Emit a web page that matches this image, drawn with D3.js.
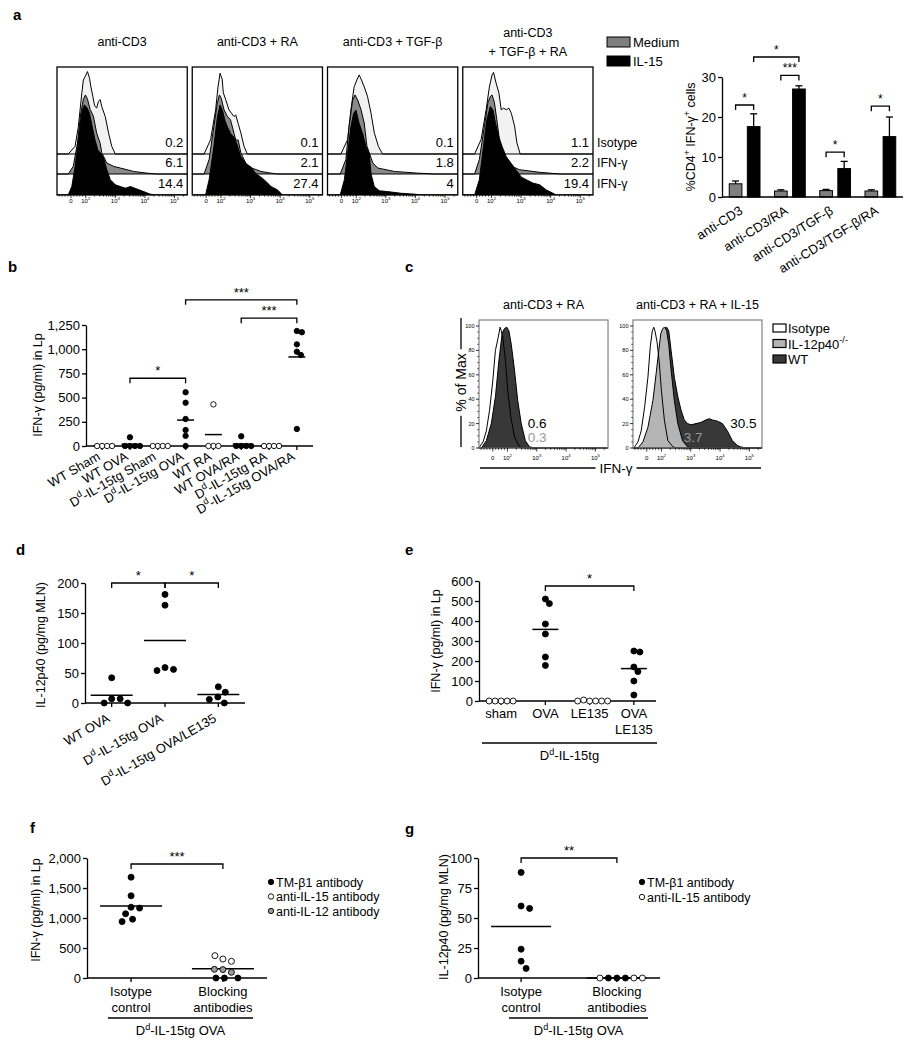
<!DOCTYPE html>
<html><head><meta charset="utf-8">
<script src="https://cdn.jsdelivr.net/npm/d3@7"></script>
<style>body{margin:0;background:#fff}svg{display:block}text{font-family:'Liberation Sans',Arial,Helvetica,sans-serif}</style>
</head><body><svg id="fig" width="909" height="1050"></svg>
<script>
// ================= DATA =================
// Panel a: flow histograms (x in display decades: 0 -> "0", 0.5 -> 10^2, 1.5 -> 10^3 ...; h = relative height)
const aTitles = ["anti-CD3", "anti-CD3 + RA", "anti-CD3 + TGF-β", "anti-CD3|+ TGF-β + RA"];
const aRowLabels = ["Isotype", "IFN-γ", "IFN-γ"];
const aNumbers = [["0.2", "6.1", "14.4"], ["0.1", "2.1", "27.4"], ["0.1", "1.8", "4"], ["1.1", "2.2", "19.4"]];
const aIso = [
  [[-0.09,0],[0.14,9],[0.25,32],[0.37,72],[0.42,87],[0.51,93],[0.56,97],[0.63,89],[0.67,80],[0.74,68],[0.8,57],[0.87,54],[0.93,62],[0.99,64],[1.04,56],[1.16,44],[1.27,25],[1.38,9],[1.5,0]],
  [[-0.07,0],[0.15,17],[0.32,52],[0.4,79],[0.47,95],[0.54,88],[0.58,72],[0.66,64],[0.77,52],[0.94,44],[1.0,46],[1.08,36],[1.17,25],[1.28,9],[1.39,0]],
  [[-0.02,0],[0.21,17],[0.32,52],[0.43,79],[0.52,87],[0.6,93],[0.68,87],[0.77,79],[0.88,68],[1.0,48],[1.11,25],[1.25,9],[1.39,0]],
  [[-0.07,0],[0.15,17],[0.32,52],[0.43,79],[0.52,93],[0.57,96],[0.66,83],[0.75,72],[0.83,52],[0.91,54],[1.0,52],[1.09,54],[1.17,48],[1.28,33],[1.36,13],[1.47,0]]
];
const aGray = [
  [[-0.09,0],[0.08,9],[0.22,36],[0.33,71],[0.42,88],[0.49,93],[0.56,88],[0.65,76],[0.76,68],[0.87,48],[0.99,36],[1.04,25],[1.1,21],[1.21,13],[1.44,9],[1.67,7],[2.12,3],[2.57,1],[2.91,0]],
  [[-0.07,0],[0.1,17],[0.26,56],[0.38,84],[0.45,93],[0.51,89],[0.6,76],[0.71,68],[0.82,64],[0.94,48],[1.0,40],[1.08,40],[1.17,25],[1.39,9],[1.85,3],[2.19,1],[2.4,0]],
  [[-0.04,0],[0.15,17],[0.26,56],[0.38,87],[0.46,93],[0.55,87],[0.66,76],[0.77,60],[0.86,33],[0.94,25],[1.06,13],[1.23,7],[1.79,3],[2.58,1],[3.15,0]],
  [[-0.07,0],[0.09,17],[0.26,56],[0.38,84],[0.46,91],[0.52,93],[0.6,84],[0.68,64],[0.77,40],[0.89,21],[1.06,11],[1.45,5],[2.13,2],[2.81,0]]
];
const aBlack = [
  [[-0.09,0],[0.03,10],[0.14,33],[0.25,65],[0.37,98],[0.45,106],[0.54,103],[0.63,96],[0.71,82],[0.82,64],[0.92,52],[0.99,50],[1.1,44],[1.21,30],[1.33,18],[1.5,12],[1.67,10],[1.84,8],[2.01,10],[2.23,7],[2.46,4],[2.68,1],[2.85,0]],
  [[-0.02,0],[0.1,18],[0.26,57],[0.38,92],[0.47,106],[0.55,100],[0.63,88],[0.72,80],[0.83,72],[0.94,68],[1.03,61],[1.17,45],[1.34,37],[1.51,33],[1.68,25],[1.85,21],[2.02,16],[2.19,10],[2.41,6],[2.58,0]],
  [[-0.04,0],[0.1,18],[0.21,49],[0.32,80],[0.41,96],[0.49,100],[0.6,84],[0.72,72],[0.83,57],[0.88,53],[0.94,49],[1.0,25],[1.11,10],[1.28,5],[1.56,4],[2.02,2],[2.47,1],[2.69,0]],
  [[-0.07,0],[0.09,18],[0.23,57],[0.34,88],[0.46,104],[0.55,100],[0.64,84],[0.75,68],[0.86,57],[1.0,45],[1.17,37],[1.34,29],[1.51,21],[1.68,18],[1.9,14],[2.13,12],[2.35,6],[2.58,2],[2.69,0]]
];
const flowTicks = [{v:0,l:"0"},{v:0.5,l:"10{2}"},{v:1.5,l:"10{3}"},{v:2.5,l:"10{4}"},{v:3.5,l:"10{5}"}];

// Panel a: bar chart
const barGroups = ["anti-CD3", "anti-CD3/RA", "anti-CD3/TGF-β", "anti-CD3/TGF-β/RA"];
const barSeries = ["Medium", "IL-15"];
const barMedium = [3.3, 1.5, 1.6, 1.5];
const barMediumErr = [4.0, 1.8, 1.9, 1.8];
const barIL15 = [17.6, 27.0, 7.1, 15.1];
const barIL15Err = [20.8, 27.8, 8.9, 20.0];
const barTicks = [0, 10, 20, 30];
const barSig = [
  {ga:0, sa:"Medium", gb:0, sb:"IL-15", v:23, label:"*"},
  {ga:1, sa:"Medium", gb:1, sb:"IL-15", v:30.4, label:"***"},
  {ga:0, sa:"IL-15", gb:1, sb:"IL-15", v:35, label:"*"},
  {ga:2, sa:"Medium", gb:2, sb:"IL-15", v:11.2, label:"*"},
  {ga:3, sa:"Medium", gb:3, sb:"IL-15", v:22.7, label:"*"}
];

// Panel b
const bCats = ["WT Sham", "WT OVA", "D{d}-IL-15tg Sham", "D{d}-IL-15tg OVA", "WT RA", "WT OVA/RA", "D{d}-IL-15tg RA", "D{d}-IL-15tg OVA/RA"];
const bValues = [[0,0,0,0],[90,0,0,0,0],[0,0,0,0],[555,447,279,165,105,0],[430,0,0,0],[100,0,0,0,0],[0,0,0,0],[1188,1175,1050,974,940,176]];
const bOpen = [true, false, true, false, true, false, true, false];
const bMeans = [0, 18, 0, 268, 118, 20, 0, 920];
const bTicks = [0, 250, 500, 750, 1000, 1250];
const bSig = [{a:1, b:3, v:700, label:"*"}, {a:3, b:7, v:1510, label:"***"}, {a:5, b:7, v:1320, label:"***"}];

// Panel c
const cTitles = ["anti-CD3 + RA", "anti-CD3 + RA + IL-15"];
const cIso = [
  [[-0.45,1],[-0.33,5],[-0.22,14],[-0.11,31],[0.0,55],[0.09,80],[0.18,90],[0.25,99],[0.29,96],[0.34,91],[0.43,72],[0.51,47],[0.62,25],[0.74,9],[0.91,1],[1.02,0]],
  [[-0.41,1],[-0.3,5],[-0.19,14],[-0.07,34],[0.04,58],[0.12,83],[0.19,96],[0.24,99],[0.28,96],[0.35,87],[0.42,72],[0.5,47],[0.6,23],[0.72,6],[0.89,1],[1.0,0]]
];
const cWT = [
  [[-0.39,0],[-0.22,6],[-0.05,20],[0.09,42],[0.21,72],[0.32,94],[0.4,98],[0.48,99],[0.55,96],[0.63,85],[0.74,64],[0.85,39],[0.97,20],[1.11,6],[1.25,1],[1.42,0]],
  [[-0.24,0],[-0.07,5],[0.1,17],[0.26,39],[0.38,64],[0.46,83],[0.52,95],[0.6,98],[0.68,99],[0.75,96],[0.83,80],[0.94,58],[1.06,42],[1.17,31],[1.28,23],[1.39,20],[1.51,19],[1.68,20],[1.85,21],[2.01,23],[2.13,24],[2.24,23],[2.41,22],[2.58,20],[2.75,14],[2.92,6],[3.09,2],[3.2,1],[3.37,0]]
];
const cIL12 = [
  null,
  [[-0.3,0],[-0.13,5],[0.04,17],[0.21,39],[0.32,61],[0.41,80],[0.48,94],[0.55,98],[0.61,99],[0.68,96],[0.75,85],[0.83,64],[0.94,39],[1.06,20],[1.22,6],[1.39,1],[1.56,0]]
];
const cNumbers = [
  [{u:1.19, p:16, t:"0.6", k:"wt"}, {u:1.19, p:5, t:"0.3", k:"ko"}],
  [{u:2.85, p:16, t:"30.5", k:"wt"}, {u:1.26, p:5, t:"3.7", k:"ko"}]
];
const cLegend = ["Isotype", "IL-12p40{-/-}", "WT"];
const cYTicks = [0, 20, 40, 60, 80, 100];

// Panel d
const dCats = ["WT OVA", "D{d}-IL-15tg OVA", "D{d}-IL-15tg OVA/LE135"];
const dValues = [[42,7,7,0,0],[181,163,59,56,54],[27,18,10,6,0]];
const dMeans = [13, 104, 14];
const dTicks = [0, 50, 100, 150, 200];
const dSig = [{a:0, b:1, v:200, label:"*"}, {a:1, b:2, v:200, label:"*"}];

// Panel e
const eCats = ["sham", "OVA", "LE135", "OVA|LE135"];
const eValues = [[0,0,0,0,0],[510,487,385,335,220,178],[0,0,5,0,0,0],[250,245,170,147,100,30]];
const eOpen = [true, false, true, false];
const eMeans = [0, 358, 0, 162];
const eTicks = [0, 100, 200, 300, 400, 500, 600];
const eSig = [{a:1, b:3, v:575, label:"*"}];

// Panel f
const fCats = ["Isotype|control", "Blocking|antibodies"];
const fLegend = ["TM-β1 antibody", "anti-IL-15 antibody", "anti-IL-12 antibody"];
const fIsotype = [1680, 1370, 1180, 1165, 1070, 980, 940];
const fBlockTM = [0, 0, 0];
const fBlockIL15 = [316, 278, 372];
const fBlockIL12 = [140, 95, 145];
const fMeans = [1200, 155];
const fTicks = [0, 500, 1000, 1500, 2000];
const fSig = [{a:0, b:1, v:1900, label:"***"}];

// Panel g
const gCats = ["Isotype|control", "Blocking|antibodies"];
const gLegend = ["TM-β1 antibody", "anti-IL-15 antibody"];
const gIsotype = [88, 60, 58, 24, 14, 8];
const gBlockTM = [0, 0, 0];
const gBlockIL15 = [0, 0, 0];
const gMeans = [43, 0];
const gTicks = [0, 25, 50, 75, 100];
const gSig = [{a:0, b:1, v:100, label:"**"}];

// ================= HELPERS =================
const svg = d3.select("#fig");
const STYLE = {
  filled: {fill:"#000", stroke:"#000"},
  open: {fill:"#fff", stroke:"#000"},
  gray: {fill:"#9a9a9a", stroke:"#000"}
};

function rich(t, str, fs) {
  const parts = str.split(/(\{[^}]*\})/).filter(s => s.length);
  let prevSup = false;
  parts.forEach(p => {
    const isSup = p[0] === "{";
    const ts = t.append("tspan").text(isSup ? p.slice(1, -1) : p);
    if (isSup) { ts.attr("font-size", fs * 0.7).attr("dy", -fs * 0.42); prevSup = true; }
    else { if (prevSup) ts.attr("dy", fs * 0.42); prevSup = false; }
  });
  return t;
}
function text(g, x, y, str, fs, o = {}) {
  const t = g.append("text").attr("x", x).attr("y", y).attr("font-size", fs)
    .attr("text-anchor", o.anchor || "start").attr("fill", o.fill || "#000");
  if (o.weight) t.attr("font-weight", o.weight);
  if (o.transform) t.attr("transform", o.transform);
  return rich(t, str, fs);
}
function styleAxis(sel, fs) {
  sel.attr("font-size", fs).attr("font-family", "'Liberation Sans', Arial, Helvetica, sans-serif");
  sel.selectAll("path.domain").attr("stroke-width", 1.3);
  sel.selectAll(".tick line").attr("stroke-width", 1.3);
  sel.selectAll(".tick text").attr("fill", "#000");
}
function dodge(points, sep) {
  const placed = [];
  points.forEach(p => {
    let off = 0;
    for (let k = 0; k < 400; k++) {
      const c = k === 0 ? 0 : (k % 2 ? 1 : -1) * Math.ceil(k / 2) * 0.5;
      if (placed.every(q => Math.hypot(q.dx - c, q.cy - p.cy) >= sep)) { off = c; break; }
    }
    p.dx = off; placed.push(p);
  });
  return points;
}
function bracket(g, xa, xb, yv, leg, label, fs) {
  g.append("path").attr("d", `M${xa},${yv + leg}V${yv}H${xb}V${yv + leg}`)
    .attr("fill", "none").attr("stroke", "#000").attr("stroke-width", 1.3);
  text(g, (xa + xb) / 2, yv - 3, label, fs, {anchor: "middle"});
}

// panel letters
[["a",13,20],["b",8,272],["c",405,272],["d",16,555],["e",405,555],["f",30,833],["g",405,834]].forEach(l =>
  text(svg, l[1], l[2], l[0], 15, {weight: "bold"}));

// ================= PANEL a: histograms =================
const flowMinor = [-0.4,-0.3,-0.2,-0.1,0.1,0.2,0.3,0.4];
[0.5,1.5,2.5,3.5].forEach(d => d3.range(2,10).forEach(k => { const u = d + Math.log10(k); if (u < 3.9) flowMinor.push(u); }));
const flowDomain = [-0.47, 3.93];

function flowAxis(g, xs, yb, labOff, tickLen) {
  flowTicks.forEach(t => {
    g.append("line").attr("x1", xs(t.v)).attr("x2", xs(t.v)).attr("y1", yb).attr("y2", yb + tickLen)
      .attr("stroke", "#000").attr("stroke-width", 0.8);
    text(g, xs(t.v), yb + labOff, t.l, 6, {anchor: "middle"});
  });
  flowMinor.forEach(u => g.append("line").attr("x1", xs(u)).attr("x2", xs(u)).attr("y1", yb).attr("y2", yb + tickLen * 0.6)
    .attr("stroke", "#000").attr("stroke-width", 0.6));
}

const aBox = d3.scaleBand().domain(d3.range(4)).range([57, 593]).paddingInner(0.037);
const aTop = 67, aBottom = 195;
const aRowBase = [154, 174, 195];
const aH = d3.scaleLinear().domain([0, 100]).range([0, 85]);
const aFills = ["#f2f2f2", "#8a8a8a", "#000"];
const ga = svg.append("g");
aTitles.forEach((title, i) => {
  const x0 = aBox(i), w = aBox.bandwidth();
  const xs = d3.scaleLinear().domain(flowDomain).range([x0, x0 + w]);
  const clipId = "aclip" + i;
  ga.append("clipPath").attr("id", clipId).append("rect").attr("x", x0).attr("y", aTop).attr("width", w).attr("height", aBottom - aTop);
  const gp = ga.append("g").attr("clip-path", `url(#${clipId})`);
  [aIso[i], aGray[i], aBlack[i]].forEach((curve, r) => {
    const base = aRowBase[r];
    const pts = [[flowDomain[0], 0], ...curve, [flowDomain[1], 0]];
    const line = d3.line().x(d => xs(d[0])).y(d => base - aH(d[1]));
    gp.append("path").attr("d", line(pts) + "Z").attr("fill", aFills[r]).attr("stroke", "#000").attr("stroke-width", 1);
  });
  ga.append("rect").attr("x", x0).attr("y", aTop).attr("width", w).attr("height", aBottom - aTop)
    .attr("fill", "none").attr("stroke", "#000").attr("stroke-width", 1.3);
  aNumbers[i].forEach((n, r) => text(ga, x0 + w - 4, aRowBase[r] - 7, n, 13, {anchor: "end"}));
  const lines = title.split("|");
  if (lines.length === 1) text(ga, x0 + w / 2, 46, lines[0], 12.5, {anchor: "middle"});
  else lines.forEach((l, k) => text(ga, x0 + w / 2, 37 + k * 19, l, 12.5, {anchor: "middle"}));
  flowAxis(ga, xs, aBottom, 7.5, 3);
});
aRowLabels.forEach((l, r) => text(ga, aBox(3) + aBox.bandwidth() + 4, aRowBase[r] - 7, l, 12.5));

// legend
const barColors = {"Medium": "#7f7f7f", "IL-15": "#000"};
barSeries.forEach((s, k) => {
  const y = 37 + k * 19;
  ga.append("rect").attr("x", 607).attr("y", y).attr("width", 23).attr("height", 10)
    .attr("fill", barColors[s]).attr("stroke", "#000").attr("stroke-width", 1);
  text(ga, 633, y + 10, s, 13);
});

// ================= PANEL a: bar chart =================
const gb = svg.append("g");
const barY = d3.scaleLinear().domain([0, 30]).range([197, 77]);
const barX = d3.scalePoint().domain(barGroups).range([722, 903]).padding(0.5);
const barIn = d3.scaleBand().domain(barSeries).range([-19, 19]).paddingInner(0.3).paddingOuter(0.2);
const barVals = {"Medium": barMedium, "IL-15": barIL15};
const barErrs = {"Medium": barMediumErr, "IL-15": barIL15Err};
barGroups.forEach((grp, i) => {
  barSeries.forEach(s => {
    const x = barX(grp) + barIn(s), bw = barIn.bandwidth(), cx = x + bw / 2;
    const v = barVals[s][i], e = barErrs[s][i];
    gb.append("line").attr("x1", cx).attr("x2", cx).attr("y1", barY(v)).attr("y2", barY(e)).attr("stroke", "#000").attr("stroke-width", 1.3);
    gb.append("line").attr("x1", cx - 3.5).attr("x2", cx + 3.5).attr("y1", barY(e)).attr("y2", barY(e)).attr("stroke", "#000").attr("stroke-width", 1.3);
    gb.append("rect").attr("x", x).attr("y", barY(v)).attr("width", bw).attr("height", barY(0) - barY(v))
      .attr("fill", barColors[s]).attr("stroke", "#000").attr("stroke-width", 1);
  });
});
const barAxis = gb.append("g").attr("transform", "translate(722,0)")
  .call(d3.axisLeft(barY).tickValues(barTicks).tickSize(4).tickSizeOuter(0).tickPadding(2));
styleAxis(barAxis, 13);
gb.append("line").attr("x1", 722).attr("x2", 903).attr("y1", barY(0)).attr("y2", barY(0)).attr("stroke", "#000").attr("stroke-width", 1.3);
barGroups.forEach(grp => text(gb, 0, 0, grp, 13, {anchor: "end", transform: `translate(${barX(grp) - 1},${barY(0) + 16}) rotate(-32)`}));
text(gb, 0, 0, "%CD4{+} IFN-γ{+} cells", 12.5, {anchor: "middle", transform: `translate(695,${(barY(0) + barY(30)) / 2}) rotate(-90)`});
barSig.forEach(s => {
  const xa = barX(barGroups[s.ga]) + barIn(s.sa) + barIn.bandwidth() / 2;
  const xb = barX(barGroups[s.gb]) + barIn(s.sb) + barIn.bandwidth() / 2;
  bracket(gb, xa, xb, barY(s.v), 5, s.label, 12);
});

// ================= DOT PANELS =================
function dotPanel(cfg) {
  const g = svg.append("g");
  const y = cfg.y;
  const x = d3.scalePoint().domain(d3.range(cfg.cats.length)).range([cfg.x0, cfg.x1]).padding(cfg.pad);
  // means
  cfg.means.forEach((m, i) => g.append("line").attr("x1", x(i) - cfg.meanW / 2).attr("x2", x(i) + cfg.meanW / 2)
    .attr("y1", y(m)).attr("y2", y(m)).attr("stroke", "#000").attr("stroke-width", 1.5));
  // axes
  const ya = g.append("g").attr("transform", `translate(${cfg.x0},0)`)
    .call(d3.axisLeft(y).tickValues(cfg.ticks).tickSize(4).tickSizeOuter(0).tickPadding(2).tickFormat(cfg.fmt || d3.format(",")));
  styleAxis(ya, 13);
  g.append("line").attr("x1", cfg.x0).attr("x2", cfg.x1).attr("y1", y(0)).attr("y2", y(0)).attr("stroke", "#000").attr("stroke-width", 1.3);
  cfg.cats.forEach((c, i) => g.append("line").attr("x1", x(i)).attr("x2", x(i)).attr("y1", y(0)).attr("y2", y(0) + 4)
    .attr("stroke", "#000").attr("stroke-width", 1.3));
  // points
  cfg.groups.forEach((pts, i) => {
    const ps = dodge(pts.map(p => ({cy: y(p.v), st: p.st})), cfg.sep);
    ps.forEach(p => g.append("circle").attr("cx", x(i) + p.dx).attr("cy", p.cy).attr("r", cfg.r)
      .attr("fill", STYLE[p.st].fill).attr("stroke", STYLE[p.st].stroke).attr("stroke-width", 0.9));
  });
  // significance
  (cfg.sig || []).forEach(s => bracket(g, x(s.a), x(s.b), y(s.v), 5, s.label, 13));
  // labels
  cfg.cats.forEach((c, i) => {
    if (cfg.rot) text(g, 0, 0, c, 13, {anchor: "end", transform: `translate(${x(i) + cfg.ldx},${y(0) + cfg.ldy}) rotate(${cfg.rot})`});
    else c.split("|").forEach((l, k) => text(g, x(i), y(0) + cfg.ldy + k * 15.5, l, 13, {anchor: "middle"}));
  });
  text(g, 0, 0, cfg.ylabel, 12.5, {anchor: "middle", transform: `translate(${cfg.ylx},${cfg.yly}) rotate(-90)`});
  if (cfg.group) {
    g.append("line").attr("x1", cfg.group.x0).attr("x2", cfg.group.x1).attr("y1", cfg.group.y).attr("y2", cfg.group.y)
      .attr("stroke", "#000").attr("stroke-width", 1.3);
    text(g, (cfg.group.x0 + cfg.group.x1) / 2, cfg.group.y + 17, cfg.group.label, 13, {anchor: "middle"});
  }
  return {g, x};
}

// b
dotPanel({
  cats: bCats, x0: 86, x1: 313, pad: 0.58, y: d3.scaleLinear().domain([0, 1250]).range([446, 325]),
  ticks: bTicks, means: bMeans, meanW: 17, r: 2.7, sep: 5,
  groups: bValues.map((vs, i) => vs.map(v => ({v, st: bOpen[i] ? "open" : "filled"}))),
  sig: bSig, rot: -30, ldx: -1, ldy: 13, ylabel: "IFN-γ (pg/ml) in Lp", ylx: 42, yly: 385
});
// d
dotPanel({
  cats: dCats, x0: 85, x1: 245, pad: 0.5, y: d3.scaleLinear().domain([0, 200]).range([703, 583]),
  ticks: dTicks, means: dMeans, meanW: 42, r: 3, sep: 8.5,
  groups: dValues.map(vs => vs.map(v => ({v, st: "filled"}))),
  sig: dSig, rot: -30, ldx: -1, ldy: 18, ylabel: "IL-12p40 (pg/mg MLN)", ylx: 45, yly: 645
});
// e
dotPanel({
  cats: eCats, x0: 479, x1: 656, pad: 0.5, y: d3.scaleLinear().domain([0, 600]).range([701, 581]),
  ticks: eTicks, means: eMeans, meanW: 26, r: 3, sep: 6,
  groups: eValues.map((vs, i) => vs.map(v => ({v, st: eOpen[i] ? "open" : "filled"}))),
  sig: eSig, ldy: 17, ylabel: "IFN-γ (pg/ml) in Lp", ylx: 440, yly: 641,
  group: {x0: 482, x1: 657, y: 743, label: "D{d}-IL-15tg"}
});
// f
const fPanel = dotPanel({
  cats: fCats, x0: 87, x1: 267, pad: 0.48, y: d3.scaleLinear().domain([0, 2000]).range([978, 858]),
  ticks: fTicks, means: fMeans, meanW: 62, r: 3, sep: 8.5,
  groups: [fIsotype.map(v => ({v, st: "filled"})),
    [...fBlockIL15.map(v => ({v, st: "open"})), ...fBlockIL12.map(v => ({v, st: "gray"})), ...fBlockTM.map(v => ({v, st: "filled"}))]],
  sig: fSig, ldy: 18, ylabel: "IFN-γ (pg/ml) in Lp", ylx: 40, yly: 910,
  group: {x0: 108, x1: 253, y: 1018, label: "D{d}-IL-15tg OVA"}
});
// g
const gPanel = dotPanel({
  cats: gCats, x0: 478, x1: 660, pad: 0.45, y: d3.scaleLinear().domain([0, 100]).range([978, 858]),
  ticks: gTicks, means: gMeans, meanW: 60, r: 3, sep: 8.5,
  groups: [gIsotype.map(v => ({v, st: "filled"})),
    [...gBlockTM.map(v => ({v, st: "filled"})), ...gBlockIL15.map(v => ({v, st: "open"}))]],
  sig: gSig, ldy: 18, ylabel: "IL-12p40 (pg/mg MLN)", ylx: 448, yly: 917,
  group: {x0: 509, x1: 648, y: 1018, label: "D{d}-IL-15tg OVA"}
});
// legends f & g
const legSt = ["filled", "open", "gray"];
fLegend.forEach((l, k) => {
  const cy = 882 + k * 14.5;
  svg.append("circle").attr("cx", 271).attr("cy", cy).attr("r", 2.7).attr("fill", STYLE[legSt[k]].fill).attr("stroke", "#000").attr("stroke-width", 0.9);
  text(svg, 276, cy + 4.5, l, 12.5);
});
gLegend.forEach((l, k) => {
  const cy = 882 + k * 15;
  svg.append("circle").attr("cx", 642).attr("cy", cy).attr("r", 2.7).attr("fill", STYLE[legSt[k]].fill).attr("stroke", "#000").attr("stroke-width", 0.9);
  text(svg, 647, cy + 4.5, l, 12.5);
});

// ================= PANEL c =================
const gc = svg.append("g");
const cBox = d3.scaleBand().domain([0, 1]).range([479, 762]).paddingInner(0.162);
const cTop = 320, cBottom = 448;
const cY = d3.scaleLinear().domain([0, 100]).range([cBottom, 326]);
const cCol = {wt: "#000", ko: "#999"};
cTitles.forEach((title, i) => {
  const x0 = cBox(i), w = cBox.bandwidth();
  const xs = d3.scaleLinear().domain(flowDomain).range([x0, x0 + w]);
  const line = d3.line().x(d => xs(d[0])).y(d => cY(d[1]));
  const close = c => [[flowDomain[0], 0], ...c, [flowDomain[1], 0]];
  gc.append("path").attr("d", line(close(cIso[i])) + "Z").attr("fill", "#fff").attr("stroke", "none");
  gc.append("path").attr("d", line(close(cWT[i])) + "Z").attr("fill", "#383838").attr("stroke", "#000").attr("stroke-width", 1);
  if (cIL12[i]) gc.append("path").attr("d", line(close(cIL12[i])) + "Z").attr("fill", "#b4b4b4").attr("stroke", "#000").attr("stroke-width", 1);
  gc.append("path").attr("d", line(close(cIso[i]))).attr("fill", "none").attr("stroke", "#000").attr("stroke-width", 1);
  gc.append("rect").attr("x", x0).attr("y", cTop).attr("width", w).attr("height", cBottom - cTop)
    .attr("fill", "none").attr("stroke", "#777").attr("stroke-width", 1.1);
  text(gc, x0 + w / 2, 309, title, 12.5, {anchor: "middle"});
  flowAxis(gc, xs, cBottom, 12, 3.5);
  // y ticks
  cYTicks.forEach(t => {
    gc.append("line").attr("x1", x0 - 3).attr("x2", x0).attr("y1", cY(t)).attr("y2", cY(t)).attr("stroke", "#000").attr("stroke-width", 0.8);
    text(gc, x0 - 4.5, cY(t) + 2, String(t), 5.5, {anchor: "end"});
  });
  d3.range(5, 100, 5).filter(t => t % 20).forEach(t => gc.append("line").attr("x1", x0 - 1.8).attr("x2", x0)
    .attr("y1", cY(t)).attr("y2", cY(t)).attr("stroke", "#000").attr("stroke-width", 0.6));
  cNumbers[i].forEach(n => text(gc, xs(n.u), cY(n.p), n.t, 13.5, {fill: cCol[n.k]}));
});
// % of Max
{
  const xm = 461, yTopL = 318, yBotL = 447, yc = (yTopL + yBotL) / 2;
  const t = text(gc, 0, 0, "% of Max", 14, {anchor: "middle", transform: `translate(${xm + 5},${yc}) rotate(-90)`});
  const half = t.node().getComputedTextLength() / 2 + 4;
  gc.append("line").attr("x1", xm).attr("x2", xm).attr("y1", yTopL).attr("y2", yc - half).attr("stroke", "#000").attr("stroke-width", 1.3);
  gc.append("line").attr("x1", xm).attr("x2", xm).attr("y1", yc + half).attr("y2", yBotL).attr("stroke", "#000").attr("stroke-width", 1.3);
  const xl0 = 480, xl1 = 761, yl = 468, xc = 616;
  const t2 = text(gc, xc, yl + 5, "IFN-γ", 13.5, {anchor: "middle"});
  const h2 = t2.node().getComputedTextLength() / 2 + 4;
  gc.append("line").attr("x1", xl0).attr("x2", xc - h2).attr("y1", yl).attr("y2", yl).attr("stroke", "#000").attr("stroke-width", 1.3);
  gc.append("line").attr("x1", xc + h2).attr("x2", xl1).attr("y1", yl).attr("y2", yl).attr("stroke", "#000").attr("stroke-width", 1.3);
}
const cLegFill = ["#fff", "#b4b4b4", "#383838"];
cLegend.forEach((l, k) => {
  const y = 324 + k * 15.5;
  gc.append("rect").attr("x", 773).attr("y", y).attr("width", 13).attr("height", 8).attr("fill", cLegFill[k]).attr("stroke", "#000").attr("stroke-width", 1.2);
  text(gc, 788, y + 9, l, 13);
});
</script></body></html>
